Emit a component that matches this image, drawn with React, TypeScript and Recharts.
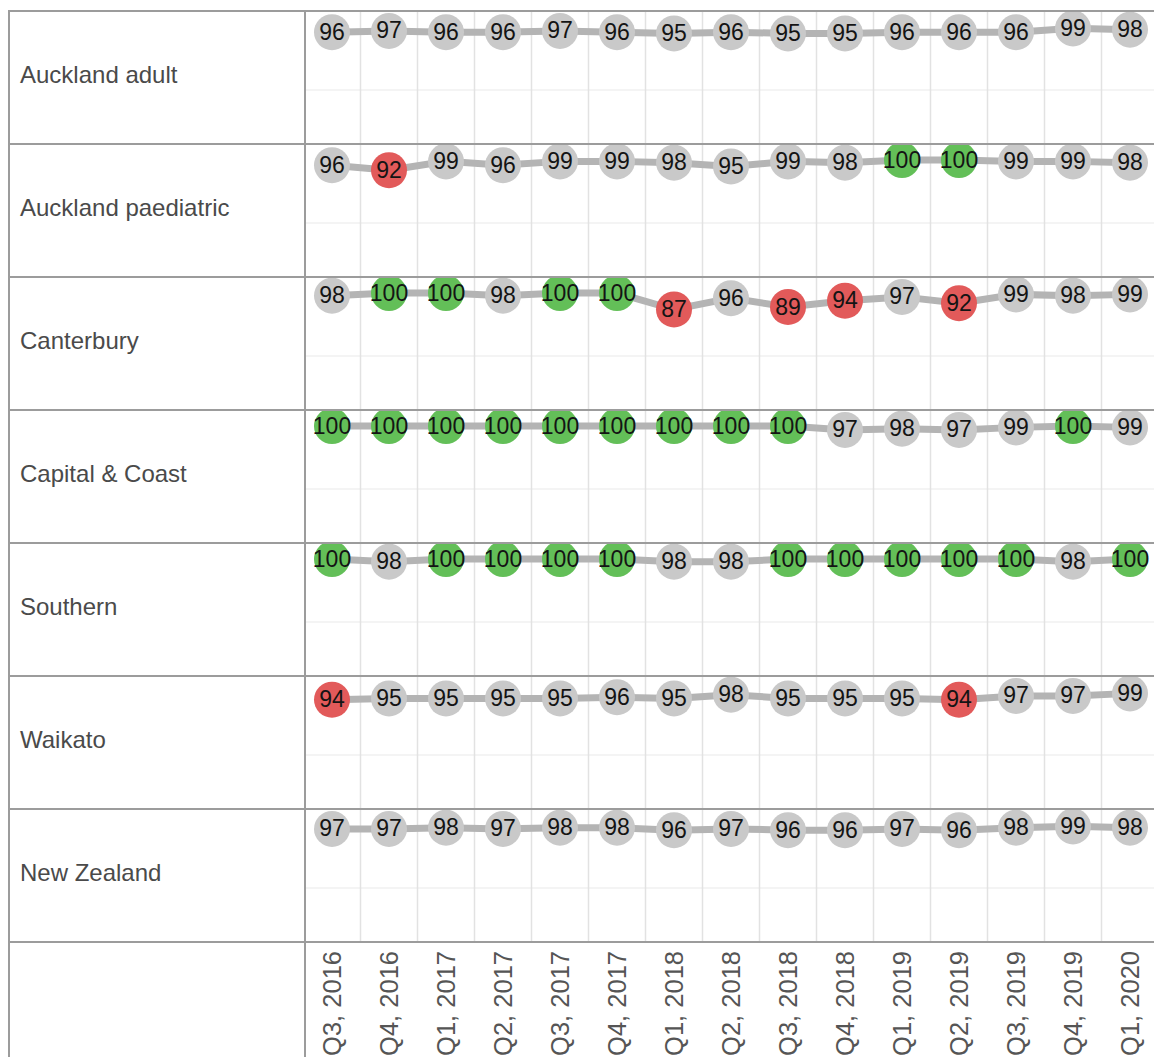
import React from "react";
import { LineChart, Line, XAxis, YAxis, ReferenceLine } from "recharts";

// quarters along the x axis
const quarters = [
  "Q3, 2016", "Q4, 2016", "Q1, 2017", "Q2, 2017", "Q3, 2017",
  "Q4, 2017", "Q1, 2018", "Q2, 2018", "Q3, 2018", "Q4, 2018",
  "Q1, 2019", "Q2, 2019", "Q3, 2019", "Q4, 2019", "Q1, 2020",
];

const regions = [
  "Auckland adult",
  "Auckland paediatric",
  "Canterbury",
  "Capital & Coast",
  "Southern",
  "Waikato",
  "New Zealand",
];

const aucklandAdult = [96, 97, 96, 96, 97, 96, 95, 96, 95, 95, 96, 96, 96, 99, 98];
const aucklandPaediatric = [96, 92, 99, 96, 99, 99, 98, 95, 99, 98, 100, 100, 99, 99, 98];
const canterbury = [98, 100, 100, 98, 100, 100, 87, 96, 89, 94, 97, 92, 99, 98, 99];
const capitalCoast = [100, 100, 100, 100, 100, 100, 100, 100, 100, 97, 98, 97, 99, 100, 99];
const southern = [100, 98, 100, 100, 100, 100, 98, 98, 100, 100, 100, 100, 100, 98, 100];
const waikato = [94, 95, 95, 95, 95, 96, 95, 98, 95, 95, 95, 94, 97, 97, 99];
const newZealand = [97, 97, 98, 97, 98, 98, 96, 97, 96, 96, 97, 96, 98, 99, 98];

const seriesList = [
  aucklandAdult,
  aucklandPaediatric,
  canterbury,
  capitalCoast,
  southern,
  waikato,
  newZealand,
];

const Y_DOMAIN: [number, number] = [8, 112];
const X_DOMAIN: [number, number] = [-0.5, quarters.length - 0.5];
const xTicks = quarters.map((_, i) => i);
const boundaries = quarters.slice(1).map((_, i) => i + 0.5);

const FONT = '"Liberation Sans", Arial, sans-serif';
const BORDER = "2px solid #9c9c9c";
const ROW_H = 133;
const LABEL_W = 296;
const CHART_W = 853;

const dotColor = (v: number) => {
  if (v >= 100) return "#63bf58";
  if (v < 95) return "#e25a5a";
  return "#c9c9c9";
};

const renderDot = (props: any) => {
  const { cx, cy, payload, index } = props;
  if (cx == null || cy == null) return <g key={index} />;
  return (
    <g key={`dot-${index}`}>
      <circle cx={cx} cy={cy} r={18} fill={dotColor(payload.v)} />
      <text
        x={cx}
        y={cy}
        dy="0.33em"
        textAnchor="middle"
        fontSize={23}
        fontFamily={FONT}
        fill="#141414"
      >
        {payload.v}
      </text>
    </g>
  );
};

function RowChart({ values }: { values: number[] }) {
  const data = values.map((v, i) => ({ i, v }));
  return (
    <LineChart
      width={CHART_W}
      height={ROW_H - 2}
      data={data}
      margin={{ top: 0, right: 0.5, bottom: 0, left: -2.5 }}
    >
      <XAxis type="number" dataKey="i" domain={X_DOMAIN} ticks={xTicks} hide />
      <YAxis type="number" domain={Y_DOMAIN} hide />
      <ReferenceLine y={50} stroke="#f1f1f1" strokeWidth={1.5} />
      {boundaries.map((b) => (
        <ReferenceLine key={b} x={b} stroke="#e2e2e2" strokeWidth={1.5} />
      ))}
      <Line
        type="linear"
        dataKey="v"
        stroke="#b4b4b4"
        strokeWidth={7}
        dot={renderDot}
        activeDot={false}
        isAnimationActive={false}
      />
    </LineChart>
  );
}

const QuarterTick = (props: any) => {
  const { x, y, payload } = props;
  return (
    <text
      x={x}
      y={y}
      dy="0.36em"
      transform={`rotate(-90 ${x} ${y})`}
      textAnchor="end"
      fontSize={25.5}
      fontFamily={FONT}
      fill="#555"
    >
      {quarters[payload.value]}
    </text>
  );
};

function AxisRow() {
  const data = quarters.map((q, i) => ({ i, q }));
  return (
    <LineChart
      width={CHART_W}
      height={200}
      data={data}
      margin={{ top: 0, right: 0.5, bottom: 0, left: -2.5 }}
    >
      <XAxis
        type="number"
        dataKey="i"
        domain={X_DOMAIN}
        ticks={xTicks}
        interval={0}
        height={193}
        axisLine={false}
        tickLine={false}
        tickSize={0}
        tickMargin={1}
        tick={<QuarterTick />}
      />
      <YAxis type="number" domain={[0, 1]} hide />
      {boundaries.map((b) => (
        <ReferenceLine
          key={b}
          segment={[
            { x: b, y: 0 },
            { x: b, y: 1 },
          ]}
          stroke="#e2e2e2"
          strokeWidth={1.5}
        />
      ))}
    </LineChart>
  );
}

const labelCell: React.CSSProperties = {
  width: LABEL_W,
  boxSizing: "border-box",
  borderRight: BORDER,
  display: "flex",
  alignItems: "center",
  paddingLeft: 10,
  paddingBottom: 5,
  fontSize: 24,
  color: "#4a4a4a",
  fontFamily: FONT,
  flexShrink: 0,
};

export default function App() {
  return (
    <>
      <style>{"html,body{overflow:hidden;background:#fff}"}</style>
      <div
        style={{
          position: "absolute",
          left: 8,
          top: 10,
          width: 2 + LABEL_W + CHART_W,
          borderTop: BORDER,
          borderLeft: BORDER,
        }}
      >
        {regions.map((name, r) => (
          <div
            key={name}
            style={{
              display: "flex",
              height: ROW_H,
              boxSizing: "border-box",
              borderBottom: BORDER,
            }}
          >
            <div style={labelCell}>{name}</div>
            <div style={{ width: CHART_W, height: ROW_H - 2 }}>
              <RowChart values={seriesList[r]} />
            </div>
          </div>
        ))}
        <div style={{ display: "flex", height: 200 }}>
          <div style={labelCell} />
          <div style={{ width: CHART_W, height: 200 }}>
            <AxisRow />
          </div>
        </div>
      </div>
    </>
  );
}
